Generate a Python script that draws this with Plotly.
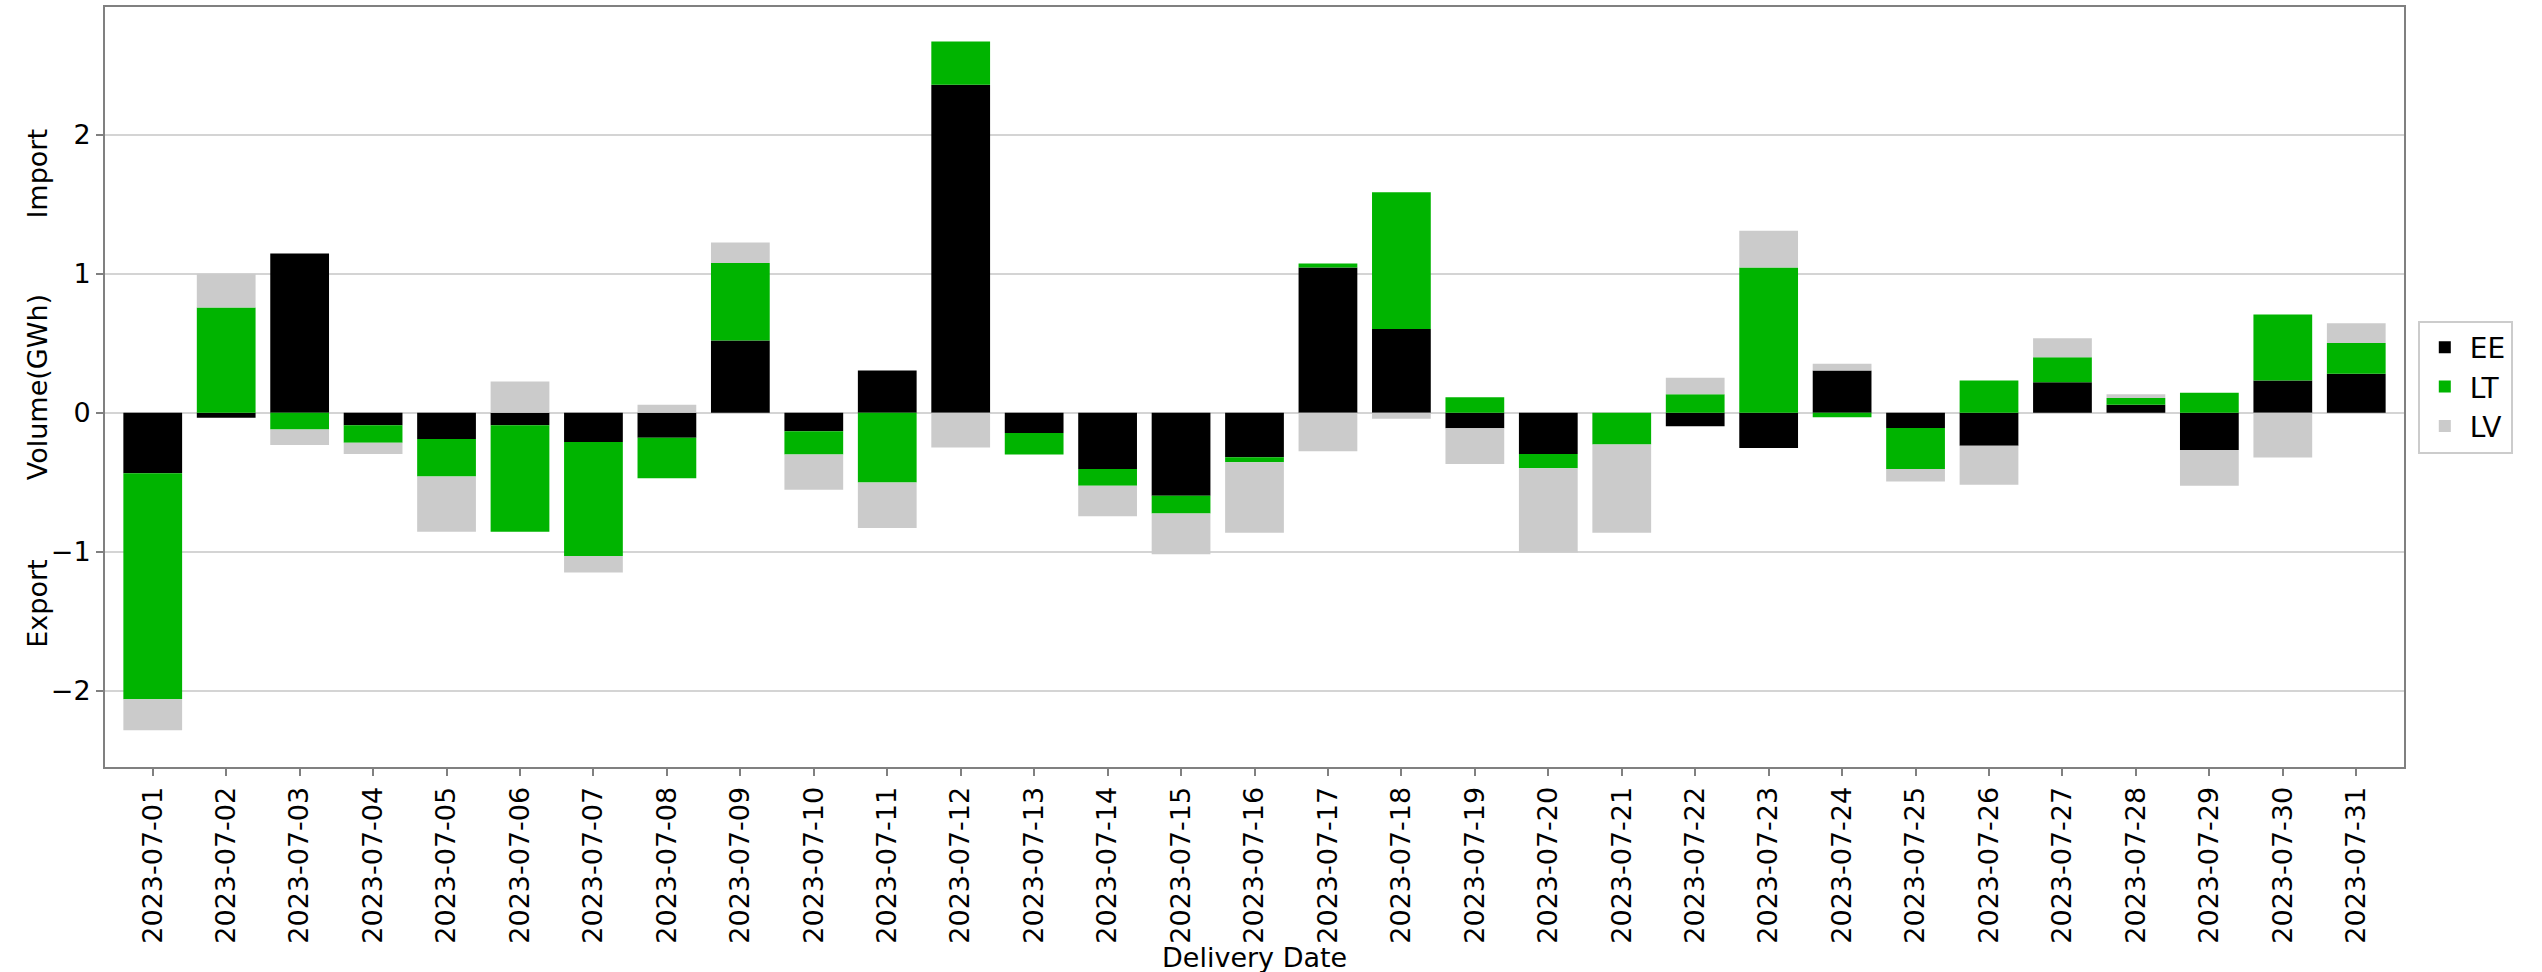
import plotly.graph_objects as go

# ---------- data (GWh) ----------
dates = [f"2023-07-{d:02d}" for d in range(1, 32)]

ee = [-0.436, -0.036, 1.146, -0.090, -0.190, -0.090, -0.210, -0.181, 0.519, -0.133,
      0.304, 2.361, -0.146, -0.405, -0.598, -0.321, 1.045, 0.603, -0.112, -0.298,
      0.000, -0.098, -0.254, 0.304, -0.110, -0.238, 0.220, 0.057, -0.269, 0.232,
      0.280]
lt = [-1.626, 0.758, -0.121, -0.127, -0.270, -0.767, -0.821, -0.290, 0.558, -0.167,
      -0.502, 0.311, -0.155, -0.121, -0.128, -0.036, 0.029, 0.983, 0.112, -0.102,
      -0.229, 0.132, 1.045, -0.033, -0.295, 0.232, 0.180, 0.048, 0.144, 0.474,
      0.222]
lv = [-0.224, 0.242, -0.112, -0.081, -0.397, 0.225, -0.119, 0.057, 0.148, -0.255,
      -0.327, -0.251, 0.000, -0.219, -0.293, -0.507, -0.278, -0.044, -0.257, -0.607,
      -0.635, 0.119, 0.264, 0.048, -0.090, -0.281, 0.136, 0.027, -0.257, -0.322,
      0.142]

series = [("EE", ee, "#000000"), ("LT", lt, "#00b400"), ("LV", lv, "#cbcbcb")]

FONT = "DejaVu Sans"
GRID = "#d4d4d4"
FRAME = "#808080"

fig = go.Figure()
for name, vals, col in series:
    fig.add_trace(go.Bar(
        x=dates, y=vals, name=name, width=0.8,
        marker=dict(color=col, line=dict(width=0)),
    ))

# side labels (Import / Volume / Export)
side = [("Import", 0.781), ("Volume(GWh)", 0.5), ("Export", 0.215)]
annotations = [
    dict(text=t, x=-0.0295, y=y, xref="paper", yref="paper", textangle=-90,
         showarrow=False, xanchor="center", yanchor="middle",
         font=dict(family=FONT, size=27, color="#000000"))
    for t, y in side
]
annotations.append(dict(
    text="Delivery Date", x=0.5, y=-0.228, xref="paper", yref="paper",
    showarrow=False, xanchor="center", yanchor="top",
    font=dict(family=FONT, size=27, color="#000000"),
))

fig.update_layout(
    width=2542, height=972,
    barmode="relative", bargap=0.2,
    plot_bgcolor="white", paper_bgcolor="white",
    margin=dict(l=105, r=138, t=5, b=205),
    font=dict(family=FONT, size=27, color="#000000"),
    showlegend=True,
    legend=dict(
        x=1.006, y=0.5, xanchor="left", yanchor="middle",
        traceorder="normal", bgcolor="white",
        bordercolor="#cccccc", borderwidth=2,
        font=dict(family=FONT, size=28),
        itemwidth=40, tracegroupgap=4,
    ),
    annotations=annotations,
)
fig.update_xaxes(
    type="category", range=[-0.65, 30.65], tickangle=-90,
    showgrid=False, showline=True, mirror=True, linecolor=FRAME, linewidth=2,
    ticks="outside", ticklen=7, tickcolor=FRAME, tickwidth=1.5,
    tickfont=dict(family=FONT, size=27),
)
fig.update_yaxes(
    range=[-2.55, 2.92], tickvals=[-2, -1, 0, 1, 2],
    showgrid=True, gridcolor=GRID, gridwidth=2, zeroline=False,
    showline=True, mirror=True, linecolor=FRAME, linewidth=2,
    ticks="outside", ticklen=7, tickcolor=FRAME, tickwidth=1.5,
    tickfont=dict(family=FONT, size=27),
)

# drop the default page margin so the figure sits at the window corner
fig.write_html("out.html", config={"displayModeBar": False},
               post_script="document.body.style.margin='0';")
